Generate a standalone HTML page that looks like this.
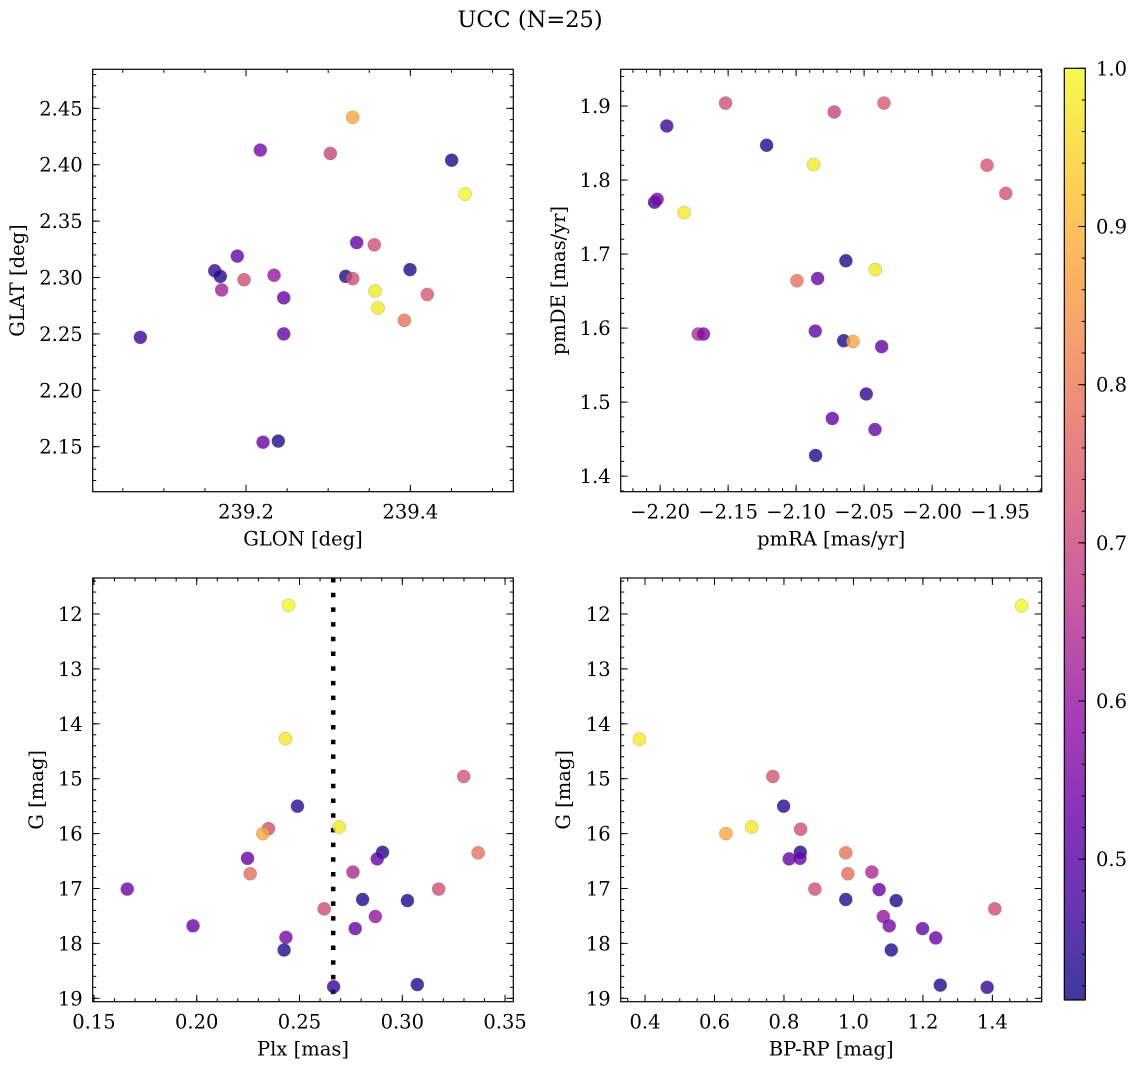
<!DOCTYPE html>
<html><head><meta charset="utf-8"><style>
html,body{margin:0;padding:0;background:#fff;}
svg{display:block;font-family:"DejaVu Serif","Liberation Serif",serif;}
</style></head><body>
<svg id="fig" width="1136" height="1068" viewBox="0 0 1136 1068" xmlns="http://www.w3.org/2000/svg">
<rect width="1136" height="1068" fill="#fff"/>
<text x="530" y="27" font-size="22.5" text-anchor="middle">UCC (N=25)</text>
</svg>
<script>
// ---- data (per panel) ----
const glon=[239.0714,239.1619,239.1687,239.1704,239.1894,239.1976,239.2174,239.2207,239.2393,239.2341,239.2459,239.2459,239.3026,239.3213,239.3298,239.3298,239.3347,239.3561,239.3570,239.3606,239.3927,239.3996,239.4206,239.4503,239.4665];
const glat=[2.247,2.306,2.301,2.289,2.319,2.298,2.413,2.154,2.155,2.302,2.282,2.250,2.410,2.301,2.299,2.442,2.331,2.329,2.288,2.273,2.262,2.307,2.285,2.404,2.374];
const prob1=[0.46,0.46,0.43,0.62,0.52,0.72,0.55,0.53,0.43,0.6,0.52,0.52,0.70,0.43,0.72,0.88,0.52,0.72,0.98,0.98,0.79,0.43,0.74,0.43,1.0];

const pmra=[-2.2041,-2.2022,-2.1951,-2.1823,-2.1720,-2.1681,-2.1519,-2.1217,-2.0994,-2.0871,-2.0842,-2.0859,-2.0857,-2.0734,-2.0720,-2.0634,-2.0650,-2.0582,-2.0484,-2.0418,-2.0420,-2.0371,-2.0354,-1.9596,-1.9458];
const pmde=[1.770,1.774,1.873,1.756,1.592,1.592,1.904,1.847,1.664,1.821,1.667,1.596,1.428,1.478,1.892,1.691,1.583,1.582,1.511,1.679,1.463,1.575,1.904,1.820,1.782];
const prob2=[0.47,0.55,0.46,0.98,0.65,0.56,0.72,0.43,0.79,0.98,0.52,0.52,0.43,0.52,0.70,0.43,0.43,0.88,0.45,0.98,0.52,0.52,0.74,0.73,0.73];

const plx=[0.2447,0.2432,0.3299,0.2490,0.2349,0.2322,0.2693,0.2904,0.2878,0.3369,0.2247,0.2260,0.2760,0.1662,0.3177,0.2807,0.3025,0.2620,0.2869,0.1982,0.2771,0.2434,0.2425,0.2666,0.3073];
const gmag3=[11.84,14.27,14.96,15.50,15.91,16.00,15.88,16.34,16.46,16.35,16.45,16.73,16.70,17.01,17.01,17.20,17.22,17.37,17.51,17.68,17.73,17.89,18.12,18.79,18.75];
const prob3=[1.0,0.98,0.73,0.44,0.72,0.88,0.98,0.43,0.52,0.79,0.52,0.78,0.64,0.53,0.72,0.43,0.43,0.71,0.6,0.53,0.52,0.55,0.43,0.45,0.43];

const bprp=[1.484,0.384,0.768,0.799,0.633,0.707,0.848,0.847,0.815,0.846,0.978,0.984,1.053,0.889,0.978,1.074,1.123,1.086,1.103,1.109,1.199,1.237,1.407,1.250,1.385];
const gmag4=[11.85,14.28,14.96,15.50,16.00,15.88,15.92,16.34,16.46,16.45,16.35,16.73,16.70,17.01,17.20,17.02,17.22,17.51,17.68,18.12,17.73,17.90,17.37,18.76,18.80];
const prob4=[1.0,0.98,0.73,0.44,0.88,0.98,0.72,0.43,0.52,0.52,0.79,0.78,0.64,0.72,0.43,0.53,0.43,0.6,0.55,0.43,0.52,0.53,0.71,0.43,0.45];

const plxLine=[0.2664];
const cbTicks=[0.5,0.6,0.7,0.8,0.9,1.0];
const cbMin=0.411, cbMax=1.0;

// ---- helpers ----
const NS="http://www.w3.org/2000/svg";
const svg=document.getElementById('fig');
const FS=19.5;
function mk(tag,attrs,parent){const e=document.createElementNS(NS,tag);for(const k in attrs)e.setAttribute(k,attrs[k]);(parent||svg).appendChild(e);return e;}
const plasma=[[13,8,135],[65,4,157],[106,0,168],[143,13,164],[177,42,144],[204,71,120],[225,100,98],[242,132,75],[252,166,54],[252,206,37],[240,249,33]];
function cmap(t){t=Math.max(0,Math.min(1,t));const f=t*10,i=Math.min(9,Math.floor(f)),r=f-i;const a=plasma[i],b=plasma[i+1];
 return 'rgb('+a.map((v,k)=>Math.round(v+(b[k]-v)*r)).join(',')+')';}
function ticks(min,max,step){const o=[];const k0=Math.ceil(min/step-1e-6),k1=Math.floor(max/step+1e-6);for(let k=k0;k<=k1;k++)o.push(+(k*step).toFixed(6));return o;}
function fmt(v,d){const s=Math.abs(v).toFixed(d);return (v<-1e-9?'\u2212':'')+s;}

function panel(c){
 const g=mk('g',{});
 
 
 const W=c.r-c.l,H=c.b-c.t;
 const sx=v=>c.l+(v-c.x0)/(c.x1-c.x0)*W;
 const sy=c.inv?(v=>c.t+(v-c.y0)/(c.y1-c.y0)*H):(v=>c.b-(v-c.y0)/(c.y1-c.y0)*H);
 const yl=c.inv?Math.min(c.y0,c.y1):c.y0, yh=c.inv?Math.max(c.y0,c.y1):c.y1;
 const tg=mk('g',{stroke:'#000','stroke-width':1},g);
 ticks(c.x0,c.x1,c.xmin).forEach(v=>{const x=sx(v);mk('line',{x1:x,x2:x,y1:c.b,y2:c.b-3.5},tg);mk('line',{x1:x,x2:x,y1:c.t,y2:c.t+3.5},tg);});
 ticks(yl,yh,c.ymin).forEach(v=>{const y=sy(v);mk('line',{x1:c.l,x2:c.l+3.5,y1:y,y2:y},tg);mk('line',{x1:c.r,x2:c.r-3.5,y1:y,y2:y},tg);});
 ticks(c.x0,c.x1,c.xmaj).forEach(v=>{const x=sx(v);mk('line',{x1:x,x2:x,y1:c.b,y2:c.b-7},tg);mk('line',{x1:x,x2:x,y1:c.t,y2:c.t+7},tg);
  const t=mk('text',{x:x,y:c.b+27,'font-size':FS,'text-anchor':'middle'},g);t.textContent=fmt(v,c.xd);
  
  });
 ticks(yl,yh,c.ymaj).forEach(v=>{const y=sy(v);mk('line',{x1:c.l,x2:c.l+7,y1:y,y2:y},tg);mk('line',{x1:c.r,x2:c.r-7,y1:y,y2:y},tg);
  const t=mk('text',{x:c.l-10,y:y+7,'font-size':FS,'text-anchor':'end'},g);t.textContent=fmt(v,c.yd);
  
  });
 if(c.vline){c.vline.forEach(v=>{const l=mk('line',{x1:sx(v),x2:sx(v),y1:c.t,y2:c.b,stroke:'#000','stroke-width':4.5,'stroke-dasharray':'4.5 10.2'},g);
  
  });}
 c.xs.forEach((xv,i)=>{const p=mk('circle',{cx:sx(xv),cy:sy(c.ys[i]),r:6.6,fill:cmap((c.cs[i]-cbMin)/(cbMax-cbMin)),'fill-opacity':0.8,stroke:'#777','stroke-opacity':0.5,'stroke-width':0.5},g);
  
  });
 const fr=mk('rect',{x:c.l,y:c.t,width:W,height:H,fill:'none',stroke:'#000','stroke-width':1.2},g);
 
 
 const xl=mk('text',{x:(c.l+c.r)/2,y:c.b+54,'font-size':FS,'text-anchor':'middle'},g);xl.textContent=c.xlab;
 
 
 const ylx=c.ylx;const ylab=mk('text',{x:ylx,y:(c.t+c.b)/2,'font-size':FS,'text-anchor':'middle',transform:'rotate(-90 '+ylx+' '+((c.t+c.b)/2)+')'},g);ylab.textContent=c.ylab;
 
 
}

panel({name:'glon-glat-panel',l:92.7,r:513.3,t:69.3,b:491.7,x0:239.0134,x1:239.5253,y0:2.1101,y1:2.4846,xmaj:0.2,xmin:0.05,ymaj:0.05,ymin:0.01,xd:1,yd:2,xs:glon,ys:glat,cs:prob1,xlab:'GLON [deg]',ylab:'GLAT [deg]',ylx:24});
panel({name:'pm-panel',l:620.7,r:1041.7,t:69.3,b:491.7,x0:-2.229,x1:-1.9194,y0:1.379,y1:1.9496,xmaj:0.05,xmin:0.01,ymaj:0.1,ymin:0.02,xd:2,yd:1,xs:pmra,ys:pmde,cs:prob2,xlab:'pmRA [mas/yr]',ylab:'pmDE [mas/yr]',ylx:565});
panel({name:'plx-g-panel',l:92.7,r:513.3,t:578,b:1001.7,x0:0.1494,x1:0.354,y0:11.344,y1:19.062,inv:true,xmaj:0.05,xmin:0.01,ymaj:1,ymin:0.2,xd:2,yd:0,xs:plx,ys:gmag3,cs:prob3,xlab:'Plx [mas]',ylab:'G [mag]',ylx:43,vline:plxLine});
panel({name:'cmd-panel',l:620.7,r:1041.7,t:578,b:1001.7,x0:0.330,x1:1.542,y0:11.344,y1:19.062,inv:true,xmaj:0.2,xmin:0.05,ymaj:1,ymin:0.2,xd:1,yd:0,xs:bprp,ys:gmag4,cs:prob4,xlab:'BP-RP [mag]',ylab:'G [mag]',ylx:570});

// ---- colorbar ----
const cb=mk('g',{});


const defs=mk('defs',{},cb);
const lg=mk('linearGradient',{id:'pl',x1:0,y1:1,x2:0,y2:0},defs);
plasma.forEach((c,i)=>mk('stop',{offset:(i/10),'stop-color':'rgb('+c.join(',')+')'},lg));
const cl=1064.3,cr=1085.3,ct=68.3,cbm=1000;
mk('rect',{x:cl,y:ct,width:cr-cl,height:cbm-ct,fill:'url(#pl)','fill-opacity':0.8},cb);
const cy=v=>cbm-(v-cbMin)/(cbMax-cbMin)*(cbm-ct);
ticks(cbMin,cbMax,0.02).forEach(v=>mk('line',{x1:cr,x2:cr-3.5,y1:cy(v),y2:cy(v),stroke:'#000','stroke-width':1},cb));
cbTicks.forEach(v=>{mk('line',{x1:cr,x2:cr-7,y1:cy(v),y2:cy(v),stroke:'#000','stroke-width':1},cb);
 const t=mk('text',{x:1096,y:cy(v)+7,'font-size':FS},cb);t.textContent=v.toFixed(1);
 
 });
mk('rect',{x:cl,y:ct,width:cr-cl,height:cbm-ct,fill:'none',stroke:'#000','stroke-width':1.2},cb);
</script>
</body></html>
